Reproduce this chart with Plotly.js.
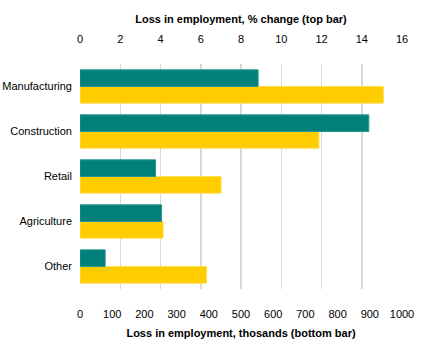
<!DOCTYPE html>
<html>
<head>
<meta charset="utf-8">
<script src="https://cdn.plot.ly/plotly-3.0.1.min.js"></script>
<style>html,body{margin:0;padding:0;background:#fff;}#chart{width:440px;height:358px;}</style>
</head>
<body>
<div id="chart"></div>
<script>
var categories = ["Manufacturing", "Construction", "Retail", "Agriculture", "Other"];
var pctChange = [8.85, 14.35, 3.75, 4.05, 1.25];
var thousands = [942, 742, 438, 258, 393];
var topTicks = [0, 2, 4, 6, 8, 10, 12, 14, 16];
var bottomTicks = [0, 100, 200, 300, 400, 500, 600, 700, 800, 900, 1000];

var FONT = "'Liberation Sans', Arial, sans-serif";

var traces = [
  {
    type: "bar", orientation: "h",
    y: categories, x: pctChange,
    xaxis: "x2", yaxis: "y",
    width: 0.37, offset: -0.37,
    marker: {color: "#007f7b", line: {color: "#2a9590", width: 1}},
    hoverinfo: "x+y"
  },
  {
    type: "bar", orientation: "h",
    y: categories, x: thousands,
    xaxis: "x", yaxis: "y",
    width: 0.37, offset: 0,
    marker: {color: "#ffcc00", line: {color: "#ffdd55", width: 1}},
    hoverinfo: "x+y"
  }
];

var layout = {
  width: 440, height: 358,
  margin: {l: 80, r: 38, t: 64, b: 69},
  paper_bgcolor: "#ffffff", plot_bgcolor: "#ffffff",
  showlegend: false,
  font: {family: FONT, size: 11, color: "#000"},
  bargap: 0.26,
  xaxis: {
    range: [0, 1000], tickvals: bottomTicks, showgrid: false, zeroline: false,
    showline: false, ticks: "", ticklabelstandoff: 17,
    tickfont: {family: FONT, size: 11, color: "#000"},
    title: {text: "<b>Loss in employment, thosands (bottom bar)</b>", standoff: 10,
            font: {family: FONT, size: 11, color: "#000"}}
  },
  xaxis2: {
    range: [0, 16], tickvals: topTicks, overlaying: "x", side: "top",
    showgrid: true, gridcolor: "#d9d9d9", gridwidth: 1.5, zeroline: false,
    showline: false, ticks: "", ticklabelstandoff: 18,
    tickfont: {family: FONT, size: 11, color: "#000"},
    title: {text: "<b>Loss in employment, % change (top bar)</b>", standoff: 6,
            font: {family: FONT, size: 11, color: "#000"}}
  },
  yaxis: {
    type: "category", categoryorder: "array", categoryarray: categories,
    range: [4.5, -0.5], showgrid: false, zeroline: false, showline: false,
    ticks: "", ticklabelstandoff: 7,
    tickfont: {family: FONT, size: 11, color: "#000"}
  }
};

Plotly.newPlot("chart", traces, layout, {displayModeBar: false, staticPlot: true});
</script>
</body>
</html>
